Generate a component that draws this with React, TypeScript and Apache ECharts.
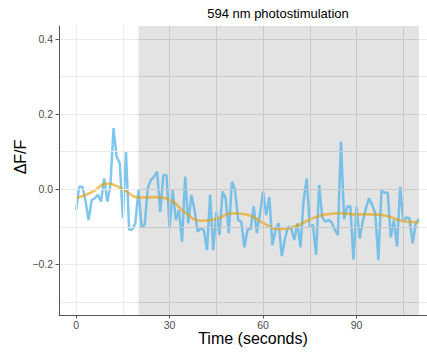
import React, { useEffect, useRef } from "react";
import * as echarts from "echarts";

// Time (seconds)
const timeSec = [
  0, 1, 2, 3, 4, 5, 6, 7, 8, 9, 10, 11, 12, 13, 14, 15, 16, 17, 18, 19,
  20, 21, 22, 23, 24, 25, 26, 27, 28, 29, 30, 31, 32, 33, 34, 35, 36, 37, 38, 39,
  40, 41, 42, 43, 44, 45, 46, 47, 48, 49, 50, 51, 52, 53, 54, 55, 56, 57, 58, 59,
  60, 61, 62, 63, 64, 65, 66, 67, 68, 69, 70, 71, 72, 73, 74, 75, 76, 77, 78, 79,
  80, 81, 82, 83, 84, 85, 86, 87, 88, 89, 90, 91, 92, 93, 94, 95, 96, 97, 98, 99,
  100, 101, 102, 103, 104, 105, 106, 107, 108, 109, 110,
];

// ΔF/F trace
const dff = [
  -0.055, 0.007, 0.007, -0.03, -0.082, -0.029, -0.024, -0.015, -0.033, 0.029,
  -0.033, 0.011, 0.163, 0.087, 0.069, -0.077, 0.1, -0.108, -0.107, -0.091,
  -0.002, -0.1, -0.095, 0.003, 0.025, 0.033, 0.047, -0.06, 0.038, 0.038,
  -0.104, -0.002, -0.082, -0.055, -0.14, 0.034, -0.091, -0.015, -0.055, -0.113,
  -0.104, -0.11, -0.162, -0.015, -0.162, -0.06, -0.122, -0.006, -0.024, -0.117,
  0.02, -0.002, -0.082, -0.086, -0.155, -0.108, -0.106, -0.046, -0.117, -0.065,
  -0.006, -0.069, -0.021, -0.149, -0.108, -0.09, -0.178, -0.133, -0.1, -0.104,
  -0.135, -0.091, -0.155, -0.03, 0.029, -0.1, -0.095, -0.175, 0.011, -0.075,
  -0.086, -0.082, -0.088, -0.108, -0.122, 0.127, -0.08, -0.046, -0.045, -0.187,
  -0.046, -0.131, -0.085, -0.051, -0.024, -0.042, -0.064, -0.189, -0.004, -0.009,
  -0.009, -0.128, -0.082, -0.153, 0.007, -0.086, -0.075, -0.077, -0.144, -0.091,
  -0.079,
];

// Smoothed fit
const smoothTime = [0, 5, 10, 15, 20, 25, 30, 35, 40, 45, 50, 55, 60, 65, 70, 75, 80, 85, 90, 95, 100, 105, 110];
const smoothVal = [
  -0.024, -0.008, 0.015, 0.0, -0.022, -0.021, -0.028, -0.062, -0.084, -0.079,
  -0.064, -0.068, -0.09, -0.106, -0.1, -0.081, -0.067, -0.064, -0.067, -0.067,
  -0.072, -0.085, -0.088,
];

// Stimulation window
const stimStart = 20;
const stimEnd = 110;
const stimLabel = "594 nm photostimulation";

// Axis extents and ticks
const xMin = -5.5;
const xMax = 115.5;
const yMin = -0.335;
const yMax = 0.435;
const xTicks = [0, 30, 60, 90];
const yTicks = [-0.2, 0, 0.2, 0.4];
const xGrid = [0, 15, 30, 45, 60, 75, 90, 105];
const yGrid = [-0.3, -0.2, -0.1, 0, 0.1, 0.2, 0.3, 0.4];

const FONT = "Liberation Sans, Arial, sans-serif";
const GRID_LIGHT = "#ebebeb";
const GRID_DARK = "#c9c9c9";

export default function App() {
  const ref = useRef<HTMLDivElement>(null);

  useEffect(() => {
    if (!ref.current) return;
    const chart = echarts.init(ref.current, null, { renderer: "svg" });

    const gridLines: any[] = [];
    xGrid.forEach((x) => {
      const inStim = x >= stimStart && x <= stimEnd;
      gridLines.push({ xAxis: x, lineStyle: { color: inStim ? GRID_DARK : GRID_LIGHT } });
    });
    yGrid.forEach((y) => {
      gridLines.push([
        { coord: [xMin, y], lineStyle: { color: GRID_LIGHT } },
        { coord: [stimStart, y] },
      ]);
      gridLines.push([
        { coord: [stimStart, y], lineStyle: { color: GRID_DARK } },
        { coord: [stimEnd, y] },
      ]);
      gridLines.push([
        { coord: [stimEnd, y], lineStyle: { color: GRID_LIGHT } },
        { coord: [xMax, y] },
      ]);
    });

    const yFmt = (v: number) => (v < 0 ? "\u2212" : "") + Math.abs(v).toFixed(1);

    chart.setOption({
      animation: false,
      textStyle: { fontFamily: FONT },
      grid: { left: 59, right: 0, top: 26, bottom: 38, outerBoundsMode: "none", containLabel: false },
      xAxis: {
        type: "value",
        min: xMin,
        max: xMax,
        z: 10,
        axisLine: { show: true, onZero: false, lineStyle: { color: "#555555", width: 1 } },
        axisTick: { show: true, customValues: xTicks, length: 3.5, lineStyle: { color: "#555555" } },
        axisLabel: { customValues: xTicks, fontSize: 10.5, color: "#4d4d4d", margin: 4, fontFamily: FONT },
        splitLine: { show: false },
      },
      yAxis: {
        type: "value",
        min: yMin,
        max: yMax,
        z: 10,
        axisLine: { show: true, onZero: false, lineStyle: { color: "#555555", width: 1 } },
        axisTick: { show: true, customValues: yTicks, length: 3.5, lineStyle: { color: "#555555" } },
        axisLabel: { customValues: yTicks, fontSize: 10.5, color: "#4d4d4d", margin: 6, formatter: yFmt, fontFamily: FONT },
        splitLine: { show: false },
      },
      graphic: [
        { type: "text", x: 278, y: 13, style: { text: stimLabel, fontSize: 13, fill: "#000", textAlign: "center", textVerticalAlign: "middle", fontFamily: FONT } },
        { type: "text", x: 253, y: 338, style: { text: "Time (seconds)", fontSize: 16, fill: "#000", textAlign: "center", textVerticalAlign: "middle", fontFamily: FONT } },
        { type: "text", x: 20, y: 157, rotation: Math.PI / 2, style: { text: "\u0394F/F", fontSize: 16, fill: "#000", textAlign: "center", textVerticalAlign: "middle", fontFamily: FONT } },
      ],
      series: [
        {
          type: "line",
          data: [],
          z: 1,
          silent: true,
          markArea: {
            silent: true,
            itemStyle: { color: "#e3e3e3" },
            data: [[{ xAxis: stimStart }, { xAxis: stimEnd }]],
          },
        },
        {
          type: "line",
          data: [],
          z: 2,
          silent: true,
          markLine: {
            silent: true,
            symbol: "none",
            label: { show: false },
            lineStyle: { type: "solid", width: 1 },
            data: gridLines,
          },
        },
        {
          type: "line",
          data: timeSec.map((t, i) => [t, dff[i]]),
          z: 3,
          showSymbol: false,
          lineStyle: { color: "#56B4E9", width: 2.5, opacity: 0.75 },
        },
        {
          type: "line",
          data: smoothTime.map((t, i) => [t, smoothVal[i]]),
          z: 4,
          smooth: 0.5,
          showSymbol: false,
          lineStyle: { color: "#E69F00", width: 2.6, opacity: 0.6 },
        },
      ],
    });

    return () => chart.dispose();
  }, []);

  return (
    <div style={{ position: "fixed", left: 0, top: 0, width: 427, height: 353, overflow: "hidden", background: "#fff" }}>
      <div ref={ref} style={{ width: 436, height: 353 }} />
    </div>
  );
}
